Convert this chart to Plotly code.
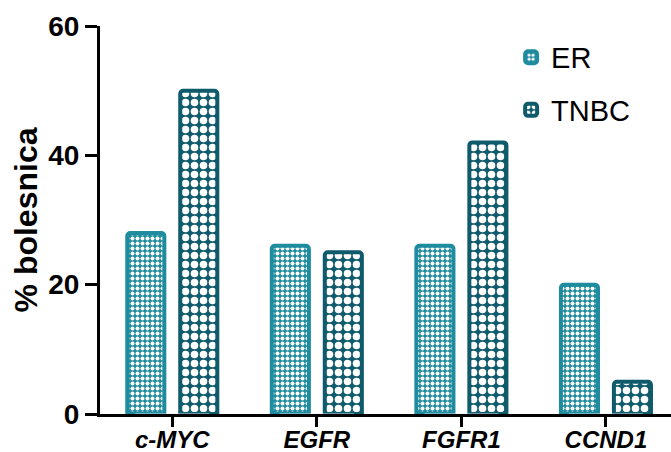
import plotly.graph_objects as go

categories = ["c-MYC", "EGFR", "FGFR1", "CCND1"]
tick_labels = ["<b><i>c-MYC</i></b>", "<b><i>EGFR</i></b>", "<b><i>FGFR1</i></b>", "<b><i>CCND1</i></b>"]
er_values = [28, 26, 26, 20]
tnbc_values = [50, 25, 42, 5]
y_ticks = [0, 20, 40, 60]

ER_COLOR = "#1e8c9e"
TNBC_COLOR = "#0f5b6c"
FONT = "Liberation Sans, Arial, sans-serif"

fig = go.Figure()
fig.add_trace(go.Bar(
    name="ER", x=categories, y=er_values, legendgroup="a",
    marker=dict(color=ER_COLOR, line=dict(color=ER_COLOR, width=4),
                pattern=dict(shape=".", bgcolor=ER_COLOR, fgcolor="white",
                             size=5, solidity=0.5, fillmode="replace")),
))
fig.add_trace(go.Bar(
    name="TNBC", x=categories, y=tnbc_values, legendgroup="b",
    marker=dict(color=TNBC_COLOR, line=dict(color=TNBC_COLOR, width=4),
                pattern=dict(shape=".", bgcolor=TNBC_COLOR, fgcolor="white",
                             size=9, solidity=0.55, fillmode="replace")),
))

x_range = [-0.5, 3.45]
fig.update_layout(
    width=671, height=452,
    margin=dict(l=100, r=0, t=26, b=38),
    paper_bgcolor="white", plot_bgcolor="white",
    barmode="group", bargap=0.267, bargroupgap=0.3,
    barcornerradius=3,
    font=dict(family=FONT, color="black"),
    legend=dict(x=0.72, y=0.985, xanchor="left", yanchor="top",
                font=dict(size=29, family=FONT), tracegroupgap=12,
                bgcolor="rgba(0,0,0,0)"),
    xaxis=dict(range=x_range, showline=True, linecolor="black", linewidth=3,
               ticks="outside", ticklen=2, tickwidth=3, tickcolor="black",
               tickvals=categories, ticktext=tick_labels, automargin=False,
               tickfont=dict(size=24, family=FONT), showgrid=False, zeroline=False),
    xaxis2=dict(range=x_range, overlaying="x", anchor="y", side="bottom",
                showline=False, ticks="outside", ticklen=12, tickwidth=3, tickcolor="black",
                tickvals=categories, showticklabels=False, automargin=False,
                showgrid=False, zeroline=False, categoryorder="array", categoryarray=categories),
    yaxis=dict(range=[0, 60], showline=True, linecolor="black", linewidth=3,
               ticks="outside", ticklen=12, tickwidth=3, tickcolor="black",
               tickvals=y_ticks, ticktext=[f"<b>{v}</b>" for v in y_ticks],
               automargin=False,
               tickfont=dict(size=28, family=FONT), showgrid=False, zeroline=False,
               title=dict(text="<b>% bolesnica</b>", font=dict(size=32, family=FONT), standoff=2)),
)
# an invisible trace so the tick-only axis is drawn
fig.add_trace(go.Bar(x=categories, y=[0] * len(categories), xaxis="x2", showlegend=False,
                     hoverinfo="skip", marker=dict(color="rgba(0,0,0,0)")))

fig.write_html("out.html", config={"displayModeBar": False},
               post_script="document.body.style.margin='0';document.body.style.overflow='hidden';")
